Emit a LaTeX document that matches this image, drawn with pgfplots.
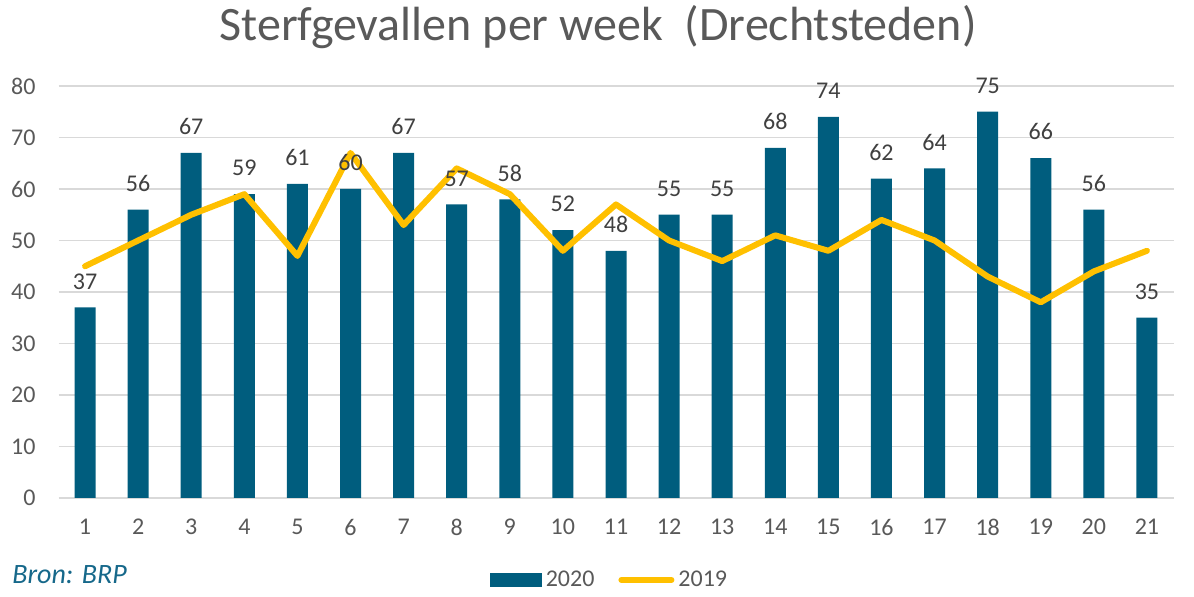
\documentclass[border=0pt]{standalone}
\usepackage{fontspec}
\setmainfont{Carlito}
\usepackage{pgfplots}
\pgfplotsset{compat=1.18}
\definecolor{barcol}{HTML}{005D7E}
\definecolor{linecol}{HTML}{FFC000}
\definecolor{gridcol}{HTML}{D9D9D9}
\definecolor{txtcol}{HTML}{595959}
\definecolor{lblcol}{HTML}{404040}
\definecolor{broncol}{HTML}{16688A}
\begin{document}
\begin{tikzpicture}
\useasboundingbox (-29.25pt,-49.5pt) rectangle (567.75pt,249pt);
\begin{axis}[
  at={(0,0)}, anchor=south west,
  scale only axis, width=557.5pt, height=206pt,
  xmin=0.5, xmax=21.5, ymin=0, ymax=80,
  xtick={1,...,21}, ytick={0,10,...,80},
  ymajorgrids, grid style={gridcol, line width=0.8pt},
  axis line style={draw=none},
  major tick length=0pt,
  /pgf/number format/assume math mode=true,
  tick label style={font=\fontsize{12}{14}\selectfont, text=txtcol},
  yticklabel style={xshift=-8pt},
  xticklabel style={yshift=-7pt},
  legend style={at={(0.495,-0.199)}, anchor=center, draw=none, fill=none,
    legend columns=2, font=\fontsize{12}{14}\selectfont, text=txtcol,
    /tikz/every even column/.append style={column sep=10pt}},
  clip=false,
]
\addplot[ybar, bar width=10.5pt, fill=barcol, draw=none,
  nodes near coords, every node near coord/.append style={font=\fontsize{12}{14}\selectfont, text=lblcol, yshift=5.5pt},
  legend image code/.code={\fill[barcol] (0pt,-3.5pt) rectangle (26pt,3.5pt);}]
  coordinates {(1,37) (2,56) (3,67) (4,59) (5,61) (6,60) (7,67) (8,57) (9,58) (10,52) (11,48) (12,55) (13,55) (14,68) (15,74) (16,62) (17,64) (18,75) (19,66) (20,56) (21,35)};
\addlegendentry{2020}
\addplot[linecol, line width=3pt, line join=round, line cap=round, mark=none,
  legend image code/.code={\draw[linecol, line width=3pt, line cap=round] (1pt,0pt) -- (26pt,0pt);}]
  coordinates {(1,45) (2,50) (3,55) (4,59) (5,47) (6,67) (7,53) (8,64) (9,59) (10,48) (11,57) (12,50) (13,46) (14,51) (15,48) (16,54) (17,50) (18,43) (19,38) (20,44) (21,48)};
\addlegendentry{2019}
\end{axis}
\node[text=txtcol, font=\fontsize{24}{28}\selectfont] at (269.75pt,235.5pt) {Sterfgevallen per week\ \ (Drechtsteden)};
\node[anchor=west, text=broncol, font=\fontsize{14}{16}\selectfont\itshape, inner sep=0pt] at (-23.25pt,-38.5pt) {Bron: BRP};
\end{tikzpicture}
\end{document}
